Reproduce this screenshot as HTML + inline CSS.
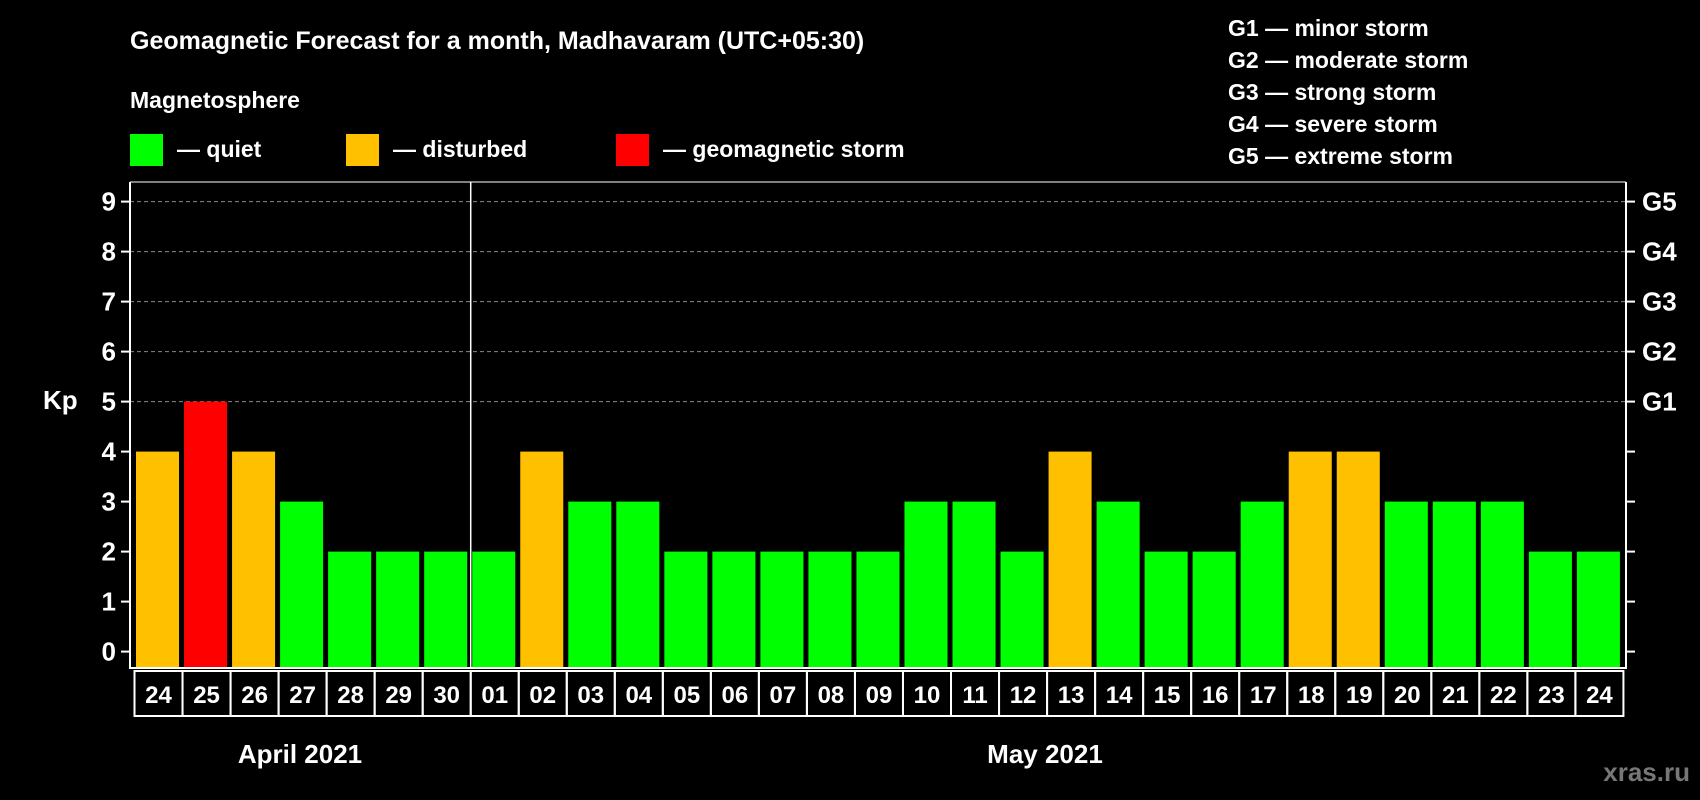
<!DOCTYPE html>
<html><head><meta charset="utf-8"><style>
html,body{margin:0;padding:0;background:#000;}
svg{display:block;font-family:"Liberation Sans",Arial,sans-serif;font-weight:bold;}
</style></head><body>
<svg id="chart" width="1700" height="800" viewBox="0 0 1700 800" xmlns="http://www.w3.org/2000/svg">
<rect width="1700" height="800" fill="#000"/>
<text x="130" y="49" fill="#fff" font-size="25">Geomagnetic Forecast for a month, Madhavaram (UTC+05:30)</text>
<text x="130" y="108" fill="#fff" font-size="23">Magnetosphere</text>
<g><rect x="130" y="134" width="33" height="32" fill="#00ff00"/><text x="177" y="157" fill="#fff" font-size="23">— quiet</text></g>
<g><rect x="346" y="134" width="33" height="32" fill="#ffc000"/><text x="393" y="157" fill="#fff" font-size="23">— disturbed</text></g>
<g><rect x="616" y="134" width="33" height="32" fill="#ff0000"/><text x="663" y="157" fill="#fff" font-size="23">— geomagnetic storm</text></g>
<g fill="#fff" font-size="23">
<text x="1228" y="36">G1 — minor storm</text>
<text x="1228" y="68">G2 — moderate storm</text>
<text x="1228" y="100">G3 — strong storm</text>
<text x="1228" y="132">G4 — severe storm</text>
<text x="1228" y="164">G5 — extreme storm</text>
</g>
<text x="43" y="409" fill="#fff" font-size="26">Kp</text>
<g id="grid"></g><g id="bars"></g><g id="axes"></g><g id="days"></g>
<text x="300" y="763" fill="#fff" font-size="26" text-anchor="middle">April 2021</text>
<text x="1045" y="763" fill="#fff" font-size="26" text-anchor="middle">May 2021</text>
<text x="1690" y="781" fill="#777" font-size="26" text-anchor="end">xras.ru</text>
</svg>
<script>
const days=["24","25","26","27","28","29","30","01","02","03","04","05","06","07","08","09","10","11","12","13","14","15","16","17","18","19","20","21","22","23","24"];
const kp=[4,5,4,3,2,2,2,2,4,3,3,2,2,2,2,2,3,3,2,4,3,2,2,3,4,4,3,3,3,2,2];
const yTicks=[0,1,2,3,4,5,6,7,8,9];
const gLabels=["G1","G2","G3","G4","G5"];
const NS="http://www.w3.org/2000/svg";
const x0=134.5,bw=48.03,plotL=130,plotR=1626,plotT=182,plotB=668;
const y=v=>651.6-v*50;
const x=i=>x0+i*bw;
function mk(t,a,p){const e=document.createElementNS(NS,t);for(const k in a)e.setAttribute(k,a[k]);p.appendChild(e);return e;}
const grid=document.getElementById('grid'),bars=document.getElementById('bars'),axes=document.getElementById('axes'),dg=document.getElementById('days');
yTicks.forEach(v=>{
 if(v>=5){const l=mk('line',{x1:plotL,x2:plotR,y1:y(v),y2:y(v),stroke:'#888','stroke-dasharray':'4,3','stroke-width':1},grid);
 
 }
 mk('line',{x1:plotL-9,x2:plotL,y1:y(v),y2:y(v),stroke:'#fff','stroke-width':2},axes);
 mk('line',{x1:plotR,x2:plotR+9,y1:y(v),y2:y(v),stroke:'#fff','stroke-width':2},axes);
 const t=mk('text',{x:plotL-14,y:y(v)+9,fill:'#fff','font-size':26,'text-anchor':'end'},axes);t.textContent=v;
 
 
 if(v>=5){const g=mk('text',{x:plotR+16,y:y(v)+9,fill:'#fff','font-size':26},axes);g.textContent=gLabels[v-5];
 
 }
});
kp.forEach((v,i)=>{
 const c=v>=5?'#ff0000':(v>=4?'#ffc000':'#00ff00');
 const r=mk('rect',{x:x(i)+1.5,y:y(v),width:bw-5,height:plotB-y(v),fill:c},bars);
 
 
 const b=mk('rect',{x:x(i),y:671,width:bw,height:45,fill:'none',stroke:'#fff','stroke-width':2},dg);
 const t=mk('text',{x:x(i)+bw/2,y:703,fill:'#fff','font-size':24,'text-anchor':'middle'},dg);t.textContent=days[i];
 
 
});
const f=mk('polyline',{points:`${plotL},${plotT} ${plotL},${plotB} ${plotR},${plotB} ${plotR},${plotT}`,fill:'none',stroke:'#fff','stroke-width':2},axes);


mk('line',{x1:plotL,x2:plotR,y1:plotT,y2:plotT,stroke:'#fff','stroke-width':1},axes);
const sep=mk('line',{x1:x(7),x2:x(7),y1:plotT,y2:plotB,stroke:'#fff','stroke-width':1.5},axes);


</script>
</body></html>
